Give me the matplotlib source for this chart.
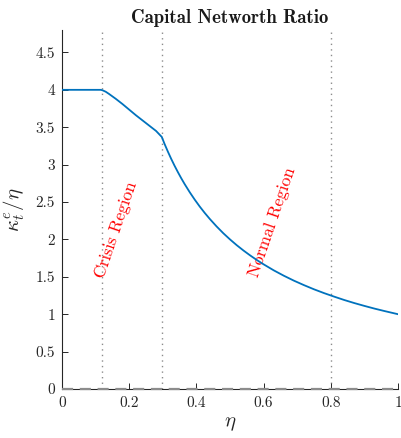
import matplotlib
matplotlib.use("Agg")
import matplotlib.pyplot as plt

plt.rcParams["font.family"] = ["cmr10", "DejaVu Serif"]
plt.rcParams["mathtext.fontset"] = "cm"
plt.rcParams["axes.formatter.use_mathtext"] = True

# Capital-to-networth ratio of experts against the wealth share eta
eta = [0.0, 0.05, 0.10, 0.115, 0.12, 0.13, 0.14, 0.16, 0.18, 0.20, 0.22, 0.24,
       0.26, 0.28, 0.297,
       0.305, 0.315, 0.325, 0.335, 0.345, 0.355, 0.365, 0.38, 0.395, 0.41,
       0.425, 0.44, 0.46, 0.48, 0.50, 0.52, 0.54, 0.56, 0.58, 0.60, 0.63,
       0.66, 0.69, 0.72, 0.75, 0.78, 0.81, 0.84, 0.87, 0.90, 0.93, 0.96, 1.0]
kappa_ratio = [4.0, 4.0, 4.0, 4.0, 3.995, 3.975, 3.945, 3.88, 3.81, 3.735, 3.66,
               3.59, 3.52, 3.45, 3.37,
               3.279, 3.175, 3.077, 2.985, 2.899, 2.817, 2.740, 2.632, 2.532,
               2.439, 2.353, 2.273, 2.174, 2.083, 2.0, 1.923, 1.852, 1.786,
               1.724, 1.667, 1.587, 1.515, 1.449, 1.389, 1.333, 1.282, 1.235,
               1.190, 1.149, 1.111, 1.075, 1.042, 1.0]

region_bounds = [0.118, 0.297, 0.80]
x_ticks = [0, 0.2, 0.4, 0.6, 0.8, 1]
x_ticklabels = ["0", "0.2", "0.4", "0.6", "0.8", "1"]
y_ticks = [0, 0.5, 1, 1.5, 2, 2.5, 3, 3.5, 4, 4.5]
y_ticklabels = ["0", "0.5", "1", "1.5", "2", "2.5", "3", "3.5", "4", "4.5"]

fig = plt.figure(figsize=(4.01, 4.38), dpi=100)
ax = fig.add_axes([62 / 401, 49 / 438, 336 / 401, 359 / 438])

for xb in region_bounds:
    ax.axvline(xb, color="0.55", ls=(0, (1, 3)), lw=1.0, zorder=1)
ax.axhline(0, color="0.55", ls=(0, (5, 3)), lw=1.6, zorder=3, clip_on=False)

ax.plot(eta, kappa_ratio, color=(0, 0.447, 0.741), lw=1.3, zorder=4)

ax.text(0.16, 2.13, "Crisis Region", color="red", rotation=71,
        ha="center", va="center", fontsize=12.5)
ax.text(0.625, 2.23, "Normal Region", color="red", rotation=71,
        ha="center", va="center", fontsize=12.5)

ax.set_xlim(0, 1)
ax.set_ylim(0, 4.8)
ax.set_xticks(x_ticks)
ax.set_xticklabels(x_ticklabels)
ax.set_yticks(y_ticks)
ax.set_yticklabels(y_ticklabels)
ax.tick_params(direction="in", length=4, width=0.7, labelsize=11,
               colors="0.15", pad=5)
for side in ["top", "right"]:
    ax.spines[side].set_visible(False)
for side in ["left", "bottom"]:
    ax.spines[side].set_color("0.15")
    ax.spines[side].set_linewidth(0.8)

ax.set_xlabel(r"$\eta$", fontsize=15, color="0.15", labelpad=4)
ax.set_ylabel(r"$\kappa^e_t/\eta$", fontsize=15, color="0.15", labelpad=6)
ax.set_title("Capital Networth Ratio", fontsize=13.5, fontfamily="cmb10",
             color="0.1", pad=5)

fig.savefig("out.png", dpi=100)
